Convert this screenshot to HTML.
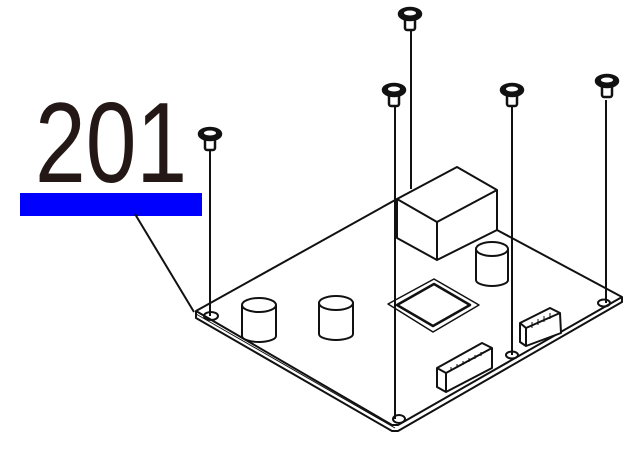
<!DOCTYPE html>
<html><head><style>
html,body{margin:0;padding:0;background:#fff;width:640px;height:454px;overflow:hidden}
</style></head><body>
<svg width="640" height="454" viewBox="0 0 640 454" xmlns="http://www.w3.org/2000/svg">
<text x="35" y="182" font-family="Liberation Sans, sans-serif" font-size="114" fill="#231815" transform="translate(35 0) scale(0.8 1) translate(-35 0)">201</text>
<rect x="20" y="193" width="182" height="23" fill="#0000ff"/>
<g stroke="#111" stroke-width="2" fill="none" stroke-linejoin="round">
<line x1="135" y1="214" x2="194" y2="312"/>
<!-- board -->
<polygon points="196,311 397,199 497,230 622,297 622,302 398,431 392,431 196,318" fill="#fff"/>
<polyline points="196,311 392,425 398,425 622,297"/>
<line x1="196" y1="314" x2="395" y2="428" stroke-width="1"/>
<!-- relay -->
<polygon points="397,199 457,167 497,190 497,230 437,260 397,238" fill="#fff"/>
<polyline points="397,199 437,222 497,190"/>
<line x1="437" y1="222" x2="437" y2="260"/>
<!-- caps -->
<g fill="#fff">
<path d="M242,305 v31 a17,6 0 0 0 34,0 v-31"/><ellipse cx="259" cy="305" rx="17" ry="7"/>
<path d="M319,303 v31 a17,6 0 0 0 34,0 v-31"/><ellipse cx="336" cy="303" rx="17" ry="7"/>
<path d="M476,249 v31 a16,6 0 0 0 32,0 v-31"/><ellipse cx="492" cy="249" rx="16" ry="7"/>
</g>
<!-- chip -->
<polygon points="388,304 434,279 479,305 433,332" fill="#fff" stroke-width="1.5"/>
<polygon points="397,305 434,284 470,305 433,326" stroke-width="2.5"/>
<!-- connectors -->
<polygon points="437,368 482,343 492,348 492,368 446,392 437,387" fill="#fff"/>
<polyline points="437,368 446,373 492,348"/><line x1="446" y1="373" x2="446" y2="392"/>
<g stroke-width="1"><line x1="451" y1="367" x2="451" y2="371"/><line x1="457" y1="364" x2="457" y2="368"/><line x1="463" y1="361" x2="463" y2="365"/><line x1="469" y1="358" x2="469" y2="362"/><line x1="475" y1="355" x2="475" y2="359"/><line x1="481" y1="352" x2="481" y2="356"/></g>
<polygon points="520,323 550,308 560,313 561,333 526,346 520,342" fill="#fff"/>
<polyline points="520,323 526,328 560,313"/><line x1="526" y1="328" x2="526" y2="346"/>
<g stroke-width="1"><line x1="532" y1="322" x2="532" y2="328"/><line x1="538" y1="319" x2="538" y2="325"/><line x1="544" y1="316" x2="544" y2="322"/><line x1="550" y1="313" x2="550" y2="319"/></g>
<!-- holes -->
<ellipse cx="211" cy="316" rx="7" ry="4"/>
<ellipse cx="604" cy="303" rx="6" ry="3.5"/>
<ellipse cx="399" cy="419" rx="6" ry="4"/>
<ellipse cx="512" cy="355" rx="6" ry="3.5"/>
<!-- screw lines -->
<line x1="210" y1="150" x2="210" y2="316"/>
<line x1="395" y1="106" x2="395" y2="419"/>
<line x1="411" y1="30" x2="411" y2="189"/>
<line x1="512" y1="106" x2="512" y2="355"/>
<line x1="606" y1="100" x2="606" y2="303"/>
</g>
<!-- screw heads -->
<g stroke="#111" stroke-width="2.5" fill="#fff">
<g transform="translate(410,12)"><rect x="-5" y="4" width="10" height="14" rx="2"/><ellipse cx="0" cy="2" rx="11" ry="6" fill="#111"/><ellipse cx="0" cy="1" rx="6" ry="2.5" stroke="none"/></g>
<g transform="translate(394,88)"><rect x="-5" y="4" width="10" height="14" rx="2"/><ellipse cx="0" cy="2" rx="11" ry="6" fill="#111"/><ellipse cx="0" cy="1" rx="6" ry="2.5" stroke="none"/></g>
<g transform="translate(512,88)"><rect x="-5" y="4" width="10" height="14" rx="2"/><ellipse cx="0" cy="2" rx="11" ry="6" fill="#111"/><ellipse cx="0" cy="1" rx="6" ry="2.5" stroke="none"/></g>
<g transform="translate(607,79)"><rect x="-5" y="4" width="10" height="14" rx="2"/><ellipse cx="0" cy="2" rx="11" ry="6" fill="#111"/><ellipse cx="0" cy="1" rx="6" ry="2.5" stroke="none"/></g>
<g transform="translate(210,132)"><rect x="-5" y="4" width="10" height="14" rx="2"/><ellipse cx="0" cy="2" rx="11" ry="6" fill="#111"/><ellipse cx="0" cy="1" rx="6" ry="2.5" stroke="none"/></g>
</g>
</svg>
</body></html>
